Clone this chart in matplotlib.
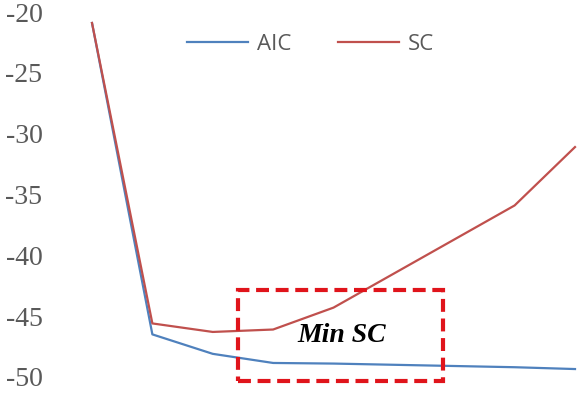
"""
Information criteria vs. lag order: AIC and SC curves with the SC minimum
region boxed.
"""

import matplotlib
matplotlib.use("Agg")
import matplotlib.pyplot as plt
import matplotlib.patches as mpatches

# ── Data ──────────────────────────────────────────────────────────────────────
lags = [1, 2, 3, 4, 5, 6, 7, 8, 9]
aic = [-20.9, -46.5, -48.1, -48.85, -48.9, -49.0, -49.1, -49.2, -49.35]
sc = [-20.9, -45.6, -46.3, -46.1, -44.3, -41.5, -38.7, -35.9, -31.1]
y_ticks = [-50, -45, -40, -35, -30, -25, -20]

# ── Style ─────────────────────────────────────────────────────────────────────
BLUE = "#4F81BD"
RED = "#C0504D"
BOX_RED = "#E0141B"
GREY_TEXT = "#595959"

plt.rcParams["axes.unicode_minus"] = False

W, H, DPI = 580, 394, 100
fig = plt.figure(figsize=(W / DPI, H / DPI), dpi=DPI, facecolor="white")
ax = fig.add_axes([48 / W, 0, 1 - 48 / W, 1])

l_aic, = ax.plot(lags, aic, color=BLUE, lw=1.6, label="AIC", zorder=2)
l_sc, = ax.plot(lags, sc, color=RED, lw=1.6, label="SC", zorder=3)

ax.set_xlim(1 - 44 / 60.375, 9 + 5 / 60.375)
ax.set_ylim(-50 - 17 / 12.13, -20 + 12 / 12.13)

ax.set_yticks(y_ticks)
ax.set_yticklabels([str(v) for v in y_ticks], family="Liberation Serif",
                   fontsize=20, color=GREY_TEXT)
ax.set_xticks([])
ax.tick_params(axis="y", length=0, pad=4)
for spine in ax.spines.values():
    spine.set_visible(False)

# dashed box marking the minimum SC region
box = mpatches.Rectangle((3.42, -50.34), 3.39, 7.5, fill=False,
                         edgecolor=BOX_RED, lw=3, linestyle=(0, (3.1, 1.6)),
                         zorder=4)
ax.add_patch(box)
ax.text(5.14, -46.63, "Min SC", family="Liberation Serif", fontsize=20,
        fontweight="bold", fontstyle="italic", color="black",
        ha="center", va="center", zorder=5)

ax.legend(handles=[l_aic, l_sc], loc="center left",
          bbox_to_anchor=(187 / W, 1 - 44 / H), bbox_transform=fig.transFigure,
          ncol=2, frameon=False, borderpad=0, borderaxespad=0,
          handlelength=2.75, handletextpad=0.4, columnspacing=2.1,
          prop={"family": "Open Sans", "size": 16}, labelcolor=GREY_TEXT)

fig.savefig("out.png", dpi=DPI, facecolor="white")
